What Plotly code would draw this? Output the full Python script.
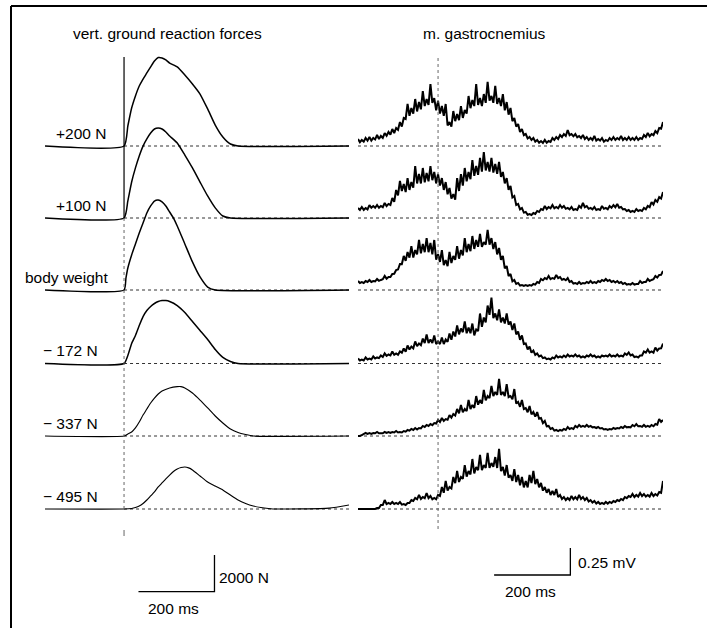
import plotly.graph_objects as go

W, H = 707, 628

# ---------------- data ----------------
row_labels = ["+200 N", "+100 N", "body weight", "\u2212 172 N", "\u2212 337 N", "\u2212 495 N"]
panel_titles = ["vert. ground reaction forces", "m. gastrocnemius"]

# vertical ground reaction force (N) vs time from touchdown (ms)
force_t_200 = [-208, 0, 10, 20, 30, 40, 50, 60, 70, 80, 90, 100, 110, 120, 140, 160, 180, 200, 220, 240, 260, 280, 300, 592]
force_200 = [0, 0, 1090, 2070, 2730, 3270, 3650, 3980, 4310, 4630, 4820, 4800, 4690, 4520, 4310, 3870, 3380, 2830, 2020, 1140, 490, 110, 0, 0]

force_t_100 = [-208, 0, 10, 20, 30, 40, 50, 60, 70, 80, 90, 100, 110, 120, 140, 160, 180, 200, 220, 240, 260, 280, 592]
force_100 = [0, 0, 930, 1960, 2730, 3380, 3920, 4310, 4630, 4850, 4900, 4850, 4690, 4470, 4090, 3430, 2730, 1960, 1200, 550, 110, 0, 0]

force_t_bw = [-208, 0, 5, 10, 20, 30, 40, 50, 60, 70, 80, 90, 100, 110, 120, 130, 140, 160, 180, 200, 220, 240, 592]
force_bw = [0, 0, 650, 1200, 1910, 2510, 3110, 3650, 4200, 4580, 4850, 4900, 4800, 4580, 4250, 3920, 3490, 2510, 1530, 710, 160, 0, 0]

force_t_172 = [-208, 0, 10, 20, 30, 40, 50, 60, 70, 80, 90, 100, 110, 120, 140, 160, 180, 200, 220, 240, 260, 280, 300, 592]
force_172 = [0, 0, 440, 1090, 1530, 2070, 2560, 2890, 3110, 3270, 3380, 3430, 3430, 3380, 3160, 2780, 2290, 1800, 1310, 760, 330, 110, 0, 0]

force_t_337 = [-208, 0, 10, 20, 30, 40, 50, 60, 70, 80, 90, 100, 120, 140, 150, 160, 180, 200, 220, 240, 260, 280, 300, 320, 340, 592]
force_337 = [0, 0, 110, 220, 440, 760, 1140, 1470, 1800, 2070, 2290, 2450, 2620, 2690, 2690, 2620, 2340, 1960, 1530, 1090, 710, 380, 190, 80, 0, 0]

force_t_495 = [-208, 0, 20, 30, 40, 50, 60, 70, 80, 90, 100, 110, 120, 130, 140, 150, 160, 170, 180, 200, 220, 240, 260, 280, 300, 320, 340, 360, 380, 400, 540, 592]
force_495 = [0, 0, 30, 80, 160, 300, 490, 710, 930, 1200, 1420, 1640, 1850, 2040, 2180, 2260, 2290, 2240, 2130, 1800, 1470, 1250, 1040, 760, 490, 300, 160, 80, 30, 0, 50, 220]

# EMG m. gastrocnemius (microvolts)
# *_a : upper excursions at -210, -200, ..., 590 ms
# *_b : lower excursions at -205, -195, ..., 585 ms
emg_200_a = [65, 56, 74, 83, 74, 102, 93, 120, 130, 157, 167, 222, 259, 389, 352, 435, 407, 509, 435, 574,
             444, 417, 370, 389, 222, 324, 296, 370, 333, 463, 426, 574, 444, 481, 593, 463, 556, 444, 481, 407,
             352, 259, 204, 157, 111, 83, 74, 56, 46, 56, 46, 74, 83, 102, 111, 148, 111, 111, 93, 102,
             83, 74, 93, 65, 74, 56, 74, 83, 74, 93, 74, 83, 74, 83, 74, 102, 120, 111, 139, 167, 222]
emg_200_b = [35, 40, 50, 50, 60, 65, 75, 95, 105, 120, 150, 180, 250, 280, 300, 320, 340, 370, 380, 400,
             330, 300, 280, 190, 180, 230, 240, 260, 300, 350, 370, 380, 370, 400, 420, 400, 390, 370, 330, 290,
             230, 180, 130, 100, 70, 56, 40, 30, 28, 30, 37, 56, 65, 83, 93, 100, 90, 80, 74, 65,
             56, 56, 50, 50, 40, 46, 56, 56, 60, 56, 56, 56, 56, 56, 65, 83, 90, 100, 120, 160]

emg_100_a = [93, 102, 93, 120, 111, 120, 111, 139, 130, 185, 259, 343, 315, 370, 333, 481, 407, 463, 417, 481,
             426, 407, 370, 333, 278, 222, 370, 407, 463, 426, 537, 481, 556, 611, 519, 556, 500, 519, 426, 370,
             296, 204, 130, 93, 56, 37, 46, 65, 83, 111, 102, 120, 102, 120, 111, 93, 102, 83, 111, 139,
             111, 93, 102, 83, 111, 93, 111, 120, 130, 102, 83, 74, 65, 83, 74, 93, 111, 148, 167, 194, 241]
emg_100_b = [75, 75, 80, 95, 95, 95, 100, 110, 120, 150, 210, 250, 240, 260, 280, 320, 320, 330, 340, 350,
             320, 300, 260, 220, 180, 170, 250, 300, 340, 360, 390, 400, 430, 440, 430, 420, 410, 380, 320, 260,
             190, 120, 80, 50, 30, 28, 37, 56, 74, 83, 90, 90, 90, 95, 85, 80, 74, 74, 95, 100,
             85, 80, 74, 74, 85, 80, 95, 100, 95, 80, 65, 56, 56, 65, 65, 80, 100, 125, 150, 180]

emg_bw_a = [83, 74, 83, 93, 83, 102, 93, 130, 120, 148, 185, 241, 315, 352, 407, 370, 463, 426, 481, 435,
            463, 333, 370, 278, 352, 315, 407, 370, 481, 426, 500, 463, 519, 444, 556, 481, 444, 389, 315, 222,
            148, 93, 65, 46, 46, 46, 56, 74, 102, 111, 130, 111, 139, 120, 102, 111, 83, 65, 74, 65,
            74, 83, 74, 83, 93, 102, 93, 83, 83, 74, 65, 56, 65, 56, 83, 74, 102, 93, 130, 139, 176]
emg_bw_b = [65, 65, 74, 74, 80, 85, 100, 105, 120, 150, 190, 240, 270, 300, 300, 330, 340, 350, 350, 330,
            280, 260, 230, 220, 250, 280, 290, 320, 350, 360, 380, 400, 400, 420, 420, 380, 330, 280, 200, 130,
            80, 56, 40, 37, 37, 40, 50, 65, 90, 100, 100, 105, 110, 95, 90, 74, 60, 56, 56, 60,
            65, 65, 65, 74, 83, 83, 74, 70, 65, 56, 50, 50, 50, 56, 65, 74, 83, 100, 115, 140]

emg_172_a = [46, 37, 56, 46, 65, 56, 74, 93, 83, 111, 93, 111, 139, 167, 157, 204, 185, 231, 269, 222,
             259, 204, 241, 222, 278, 296, 352, 324, 389, 333, 370, 315, 463, 426, 537, 611, 463, 500, 426, 463,
             389, 370, 296, 259, 185, 157, 120, 93, 74, 56, 46, 56, 74, 65, 74, 83, 74, 83, 74, 65,
             74, 83, 74, 65, 74, 74, 83, 74, 83, 74, 93, 102, 83, 65, 74, 111, 130, 111, 148, 139, 185]
emg_172_b = [28, 28, 37, 37, 46, 50, 60, 70, 74, 80, 80, 100, 110, 130, 140, 160, 170, 190, 190, 190,
             180, 180, 180, 200, 220, 250, 270, 290, 280, 280, 260, 300, 340, 380, 450, 420, 400, 380, 370, 360,
             310, 270, 220, 180, 130, 100, 80, 65, 50, 40, 37, 46, 56, 56, 60, 65, 65, 65, 56, 56,
             65, 65, 56, 56, 65, 65, 65, 65, 65, 65, 80, 74, 60, 56, 74, 100, 100, 100, 120, 140]

emg_337_a = [0, 9, 28, 28, 28, 37, 28, 37, 37, 37, 46, 37, 46, 56, 65, 74, 74, 93, 102, 111,
             120, 148, 167, 157, 194, 204, 250, 287, 250, 333, 287, 370, 333, 426, 370, 463, 407, 528, 407, 481,
             370, 435, 315, 333, 259, 278, 222, 222, 167, 139, 93, 74, 56, 56, 65, 83, 74, 93, 102, 93,
             102, 93, 83, 83, 74, 65, 65, 74, 74, 83, 93, 83, 102, 111, 93, 102, 93, 102, 111, 157, 148]
emg_337_b = [0, 15, 20, 20, 25, 25, 25, 28, 28, 33, 33, 33, 40, 50, 56, 60, 70, 83, 93, 100,
             115, 130, 140, 150, 170, 190, 210, 220, 230, 250, 260, 290, 300, 330, 350, 370, 380, 380, 370, 360,
             340, 300, 270, 250, 220, 200, 180, 160, 120, 90, 65, 50, 46, 50, 56, 65, 65, 80, 85, 85,
             85, 80, 74, 70, 60, 56, 60, 65, 70, 74, 80, 80, 90, 90, 85, 85, 85, 90, 105, 130]

emg_495_a = [0, 0, 0, 0, 0, 9, 37, 83, 56, 65, 56, 65, 46, 56, 83, 102, 130, 111, 148, 120,
             102, 130, 204, 259, 204, 296, 352, 296, 407, 352, 463, 389, 500, 407, 519, 426, 481, 556, 389, 407,
             315, 370, 315, 296, 259, 315, 352, 278, 241, 204, 185, 167, 185, 130, 111, 102, 120, 111, 130, 111,
             102, 83, 74, 65, 56, 65, 65, 74, 83, 93, 111, 120, 139, 130, 148, 139, 130, 148, 139, 157, 259]
emg_495_b = [0, 0, 0, 0, 0, 9, 37, 46, 46, 46, 46, 40, 37, 56, 74, 90, 93, 100, 100, 90,
             90, 120, 150, 170, 190, 240, 250, 280, 300, 320, 330, 360, 360, 380, 380, 390, 380, 350, 310, 290,
             260, 250, 220, 200, 200, 240, 230, 200, 170, 150, 130, 130, 110, 93, 83, 83, 90, 90, 93, 83,
             70, 60, 50, 46, 46, 50, 56, 65, 74, 83, 100, 111, 111, 115, 120, 115, 115, 120, 125, 150]

emg_t_a = list(range(-210, 591, 10))
emg_t_b = list(range(-205, 586, 10))

force_series = [(force_t_200, force_200), (force_t_100, force_100), (force_t_bw, force_bw),
                (force_t_172, force_172), (force_t_337, force_337), (force_t_495, force_495)]
emg_pairs = [(emg_200_a, emg_200_b), (emg_100_a, emg_100_b), (emg_bw_a, emg_bw_b),
             (emg_172_a, emg_172_b), (emg_337_a, emg_337_b), (emg_495_a, emg_495_b)]

force_bar_ms, force_bar_N = 200, 2000
emg_bar_ms, emg_bar_uV = 200, 250


def merge(ta, va, tb, vb):
    """Interleave the two sample sets in time order."""
    pts = sorted(list(zip(ta, va)) + list(zip(tb, vb)))
    return [p[0] for p in pts], [p[1] for p in pts]


# ---------------- layout helpers ----------------
def px(x):
    return x / W


def py(y):
    return 1 - y / H


baselines = [146, 218, 290, 363.5, 436, 509]   # pixel row positions
N_PER_PX = 54.5
UV_PER_PX = 9.26
FONT = "Liberation Sans, Arial, Helvetica, sans-serif"
FS = 15.5

fig = go.Figure()
layout = dict(
    width=W, height=H, margin=dict(l=0, r=0, t=0, b=0),
    paper_bgcolor="white", plot_bgcolor="rgba(0,0,0,0)", showlegend=False,
    font=dict(family=FONT, size=FS, color="black"),
)


def hidden(**kw):
    d = dict(visible=False, showgrid=False, zeroline=False, fixedrange=True)
    d.update(kw)
    return d


layout["xaxis"] = hidden(domain=[px(45), px(349)], range=[-208, 592], anchor="y")
layout["xaxis2"] = hidden(domain=[px(358), px(663)], range=[-210, 590], anchor="y7")

shapes = []
annotations = []

for i, b in enumerate(baselines):
    fk = i + 1
    ek = i + 7
    dom = [py(b + 20), py(b - 100)]
    layout["yaxis" if fk == 1 else f"yaxis{fk}"] = hidden(domain=dom, range=[-20 * N_PER_PX, 100 * N_PER_PX], anchor="x")
    layout[f"yaxis{ek}"] = hidden(domain=dom, range=[-20 * UV_PER_PX, 100 * UV_PER_PX], anchor="x2")
    fy = "y" if fk == 1 else f"y{fk}"
    ey = f"y{ek}"
    shapes.append(dict(type="line", xref="x", yref=fy, x0=0, x1=592, y0=0, y1=0, layer="below",
                       line=dict(color="#333", width=1, dash="dot")))
    shapes.append(dict(type="line", xref="x2", yref=ey, x0=-210, x1=590, y0=0, y1=0, layer="below",
                       line=dict(color="#333", width=1, dash="dot")))
    t, v = force_series[i]
    fig.add_trace(go.Scatter(x=t, y=v, xaxis="x", yaxis=fy, mode="lines", hoverinfo="skip",
                             line=dict(color="black", width=1.5 if i < 4 else 1.15, shape="spline", smoothing=0.5)))
    va, vb = emg_pairs[i]
    et, ev = merge(emg_t_a, va, emg_t_b, vb)
    fig.add_trace(go.Scatter(x=et, y=ev, xaxis="x2", yaxis=ey, mode="lines", hoverinfo="skip",
                             line=dict(color="black", width=2.0)))
    right = {0: 108, 1: 108, 2: 110}.get(i, 100)
    annotations.append(dict(text=row_labels[i], xref="paper", yref="paper", x=px(right), y=py(b - 13),
                            xanchor="right", yanchor="middle", showarrow=False, font=dict(size=FS)))

# touchdown markers
shapes.append(dict(type="line", xref="x", yref="paper", x0=0, x1=0, y0=py(57), y1=py(218),
                   line=dict(color="black", width=1.2)))
shapes.append(dict(type="line", xref="x", yref="paper", x0=0, x1=0, y0=py(218), y1=py(512),
                   line=dict(color="#666", width=1, dash="dot")))
shapes.append(dict(type="line", xref="x", yref="paper", x0=0, x1=0, y0=py(530), y1=py(536),
                   line=dict(color="#666", width=1)))
shapes.append(dict(type="line", xref="x2", yref="paper", x0=0, x1=0, y0=py(58), y1=py(531),
                   line=dict(color="#666", width=1, dash="dot")))

# scale bars
layout["yaxis13"] = hidden(domain=[py(600), py(540)], range=[-8.3 * N_PER_PX, 51.7 * N_PER_PX], anchor="x")
layout["yaxis14"] = hidden(domain=[py(580), py(540)], range=[-5 * UV_PER_PX, 35 * UV_PER_PX], anchor="x2")
fb0 = 38
fig.add_trace(go.Scatter(x=[fb0, fb0 + force_bar_ms, fb0 + force_bar_ms], y=[0, 0, force_bar_N],
                         xaxis="x", yaxis="y13", mode="lines", hoverinfo="skip",
                         line=dict(color="black", width=1.3)))
eb0 = 147
fig.add_trace(go.Scatter(x=[eb0, eb0 + emg_bar_ms, eb0 + emg_bar_ms], y=[0, 0, emg_bar_uV],
                         xaxis="x2", yaxis="y14", mode="lines", hoverinfo="skip",
                         line=dict(color="black", width=1.3)))

extra = [
    dict(text=panel_titles[0], x=px(167), y=py(33)),
    dict(text=panel_titles[1], x=px(484), y=py(33)),
    dict(text=f"{force_bar_N} N", x=px(217), y=py(577), xanchor="left"),
    dict(text=f"{force_bar_ms} ms", x=px(173), y=py(608)),
    dict(text=f"{emg_bar_uV / 1000:.2f} mV", x=px(576), y=py(562), xanchor="left"),
    dict(text=f"{emg_bar_ms} ms", x=px(530), y=py(591)),
]
for a in extra:
    a.setdefault("xref", "paper")
    a.setdefault("yref", "paper")
    a.setdefault("xanchor", "center")
    a.setdefault("yanchor", "middle")
    a.setdefault("showarrow", False)
    a.setdefault("font", dict(size=FS))
annotations += extra

# scanned frame (top and left edges)
shapes.append(dict(type="line", xref="paper", yref="paper", x0=px(11), x1=1, y0=py(6), y1=py(6),
                   line=dict(color="black", width=2)))
shapes.append(dict(type="line", xref="paper", yref="paper", x0=px(11), x1=px(11), y0=py(6), y1=0,
                   line=dict(color="black", width=2)))

layout["shapes"] = shapes
layout["annotations"] = annotations
fig.update_layout(**layout)
fig.write_html("out.html")
